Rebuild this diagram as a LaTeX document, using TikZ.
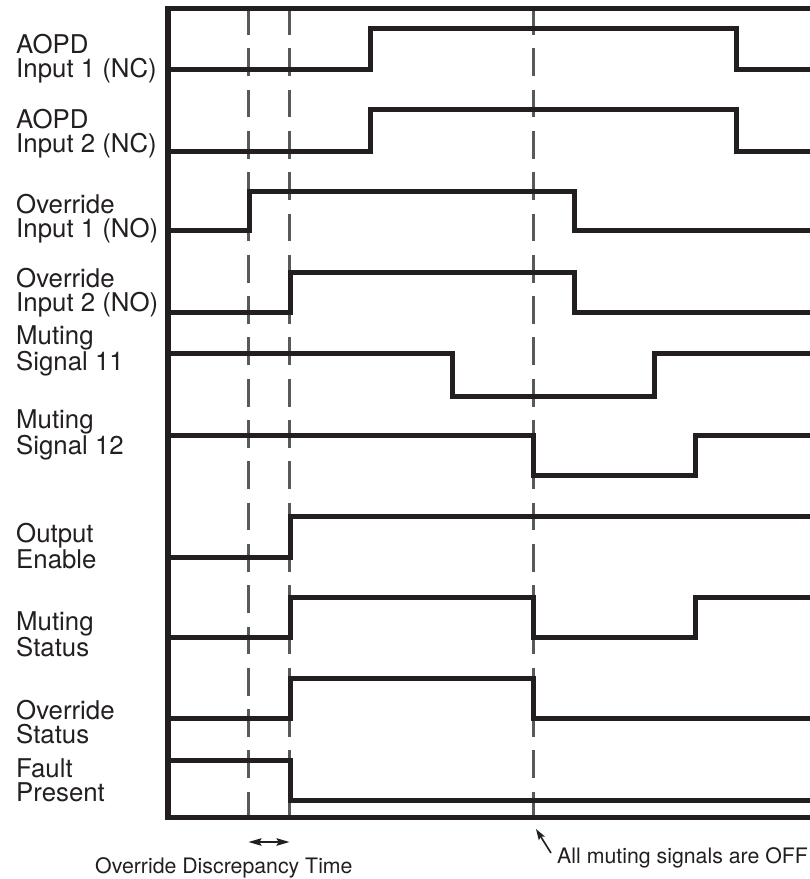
\documentclass[tikz,border=0pt]{standalone}
\usepackage{fontspec}
\setmainfont{TeX Gyre Heros}
\usepackage{tikz}
\usetikzlibrary{arrows.meta,positioning}
\definecolor{sigblack}{RGB}{35,31,32}
\definecolor{dashgray}{RGB}{88,89,91}

\begin{document}
\begin{tikzpicture}[x=1pt,y=-1pt,>=Stealth,
  wave/.style={line width=5pt,sigblack,line join=miter},
  marker/.style={line width=2.3pt,dashgray,dash pattern=on 27.8pt off 13.5pt},
  signame/.style={anchor=base west,align=left,inner sep=0pt,text=sigblack,font=\fontsize{25.8}{23.6}\selectfont},
  note/.style={anchor=base west,inner sep=0pt,text=sigblack,font=\fontsize{21.3}{24}\selectfont}]
  \useasboundingbox (0,0) rectangle (810,879);
  % signal names
  \node[signame] (aopd1) at (16,77.5) {AOPD\\Input 1 (NC)};
  \node[signame] (aopd2) at (16,152) {AOPD\\Input 2 (NC)};
  \node[signame] (ovr1) at (16,237) {Override\\Input 1 (NO)};
  \node[signame] (ovr2) at (16,311) {Override\\Input 2 (NO)};
  \node[signame] (mut11) at (16,370) {Muting\\Signal 11};
  \node[signame] (mut12) at (16,454) {Muting\\Signal 12};
  \node[signame] (outen) at (16,568) {Output\\Enable};
  \node[signame] (mutst) at (16,656) {Muting\\Status};
  \node[signame] (ovrst) at (16,743) {Override\\Status};
  \node[signame] (fault) at (16,801) {Fault\\Present};
  % time markers
  \foreach \x/\n in {248.5/t1,289.5/t2,533.5/t3}{
    \coordinate (\n top) at (\x,7);
    \coordinate (\n bot) at (\x,817);
    \draw[marker] (\n top) -- (\n bot);
  }
  % frame
  \draw[line width=5.5pt,sigblack,line join=miter] (810,8.5) -- (168,8.5) -- (168,817.5) -- (810,817.5);
  % waveforms
  \draw[wave] (171,69) -- (370.5,69) -- (370.5,28) -- (736,28) -- (736,69) -- (810,69);
  \draw[wave] (171,151) -- (370.5,151) -- (370.5,109) -- (736,109) -- (736,151) -- (810,151);
  \draw[wave] (171,230.5) -- (249.5,230.5) -- (249.5,191) -- (574,191) -- (574,230.5) -- (810,230.5);
  \draw[wave] (171,312) -- (290,312) -- (290,272) -- (574,272) -- (574,312) -- (810,312);
  \draw[wave] (171,353) -- (452.5,353) -- (452.5,396) -- (654.5,396) -- (654.5,353) -- (810,353);
  \draw[wave] (171,435) -- (533.5,435) -- (533.5,475) -- (695,475) -- (695,435) -- (810,435);
  \draw[wave] (171,557) -- (290,557) -- (290,516) -- (810,516);
  \draw[wave] (171,637) -- (290,637) -- (290,597) -- (533.5,597) -- (533.5,637) -- (695,637) -- (695,597) -- (810,597);
  \draw[wave] (171,718) -- (290,718) -- (290,678) -- (533.5,678) -- (533.5,718) -- (810,718);
  \draw[wave] (171,760) -- (290,760) -- (290,800) -- (810,800);
  % annotations
  \coordinate (odl) at (248.5,842);
  \coordinate (odr) at (289.5,842);
  \draw[<->,line width=1.6pt,sigblack,>={Stealth[length=13pt,width=7.5pt,inset=2pt]}] (odl) -- (odr);
  \node[note] (odtxt) at (95,873) {Override Discrepancy Time};
  \node[note] (offtxt) at (557,863) {All muting signals are OFF};
  \coordinate (offtail) at (551,853);
  \coordinate (offtip) at (536,829);
  \draw[->,line width=1.6pt,sigblack,>={Stealth[length=11pt,width=7pt,inset=2pt]}] (offtail) -- (offtip);
\end{tikzpicture}
\end{document}
